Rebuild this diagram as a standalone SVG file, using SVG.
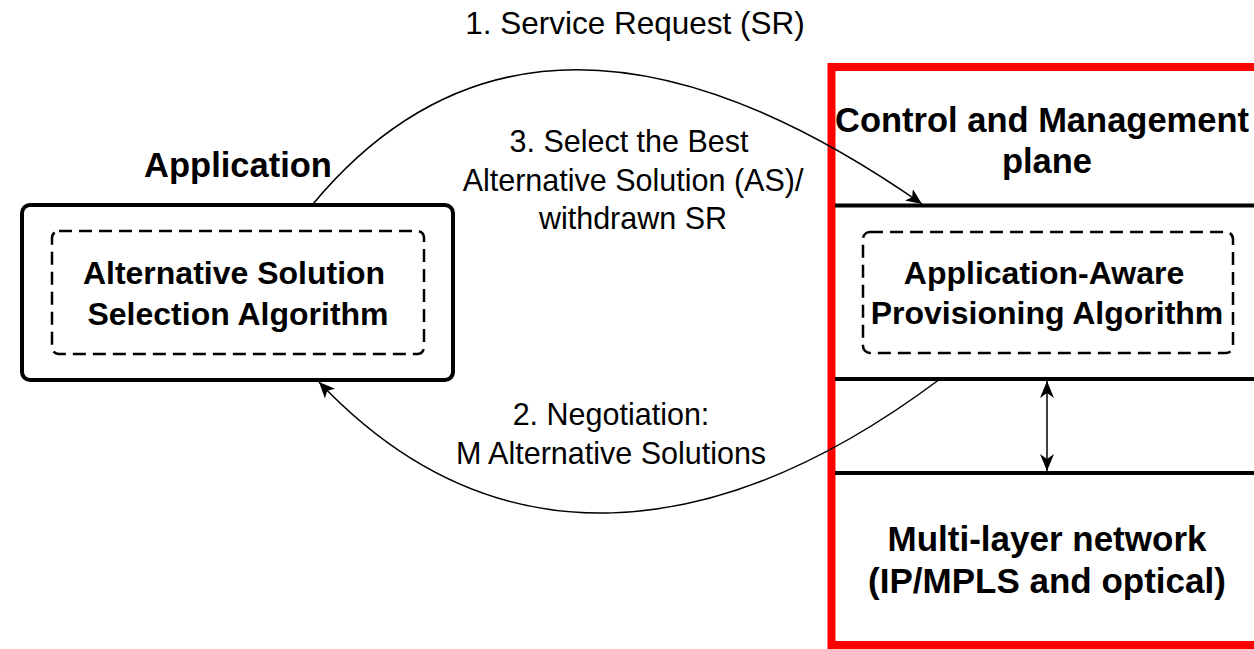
<svg xmlns="http://www.w3.org/2000/svg" width="1254" height="649" viewBox="0 0 1254 649">
  <style>
    .reg { font-family: "Liberation Sans", Arial, sans-serif; font-size: 30.5px; fill: #000; text-anchor: middle; }
    .big { font-size: 31.5px; }
    .bold { font-family: "Liberation Sans", Arial, sans-serif; font-weight: bold; fill: #000; text-anchor: middle; }
    .t34 { font-size: 34.5px; }
    .t31 { font-size: 32px; }
    .t35 { font-size: 35px; }
    .box { fill: none; stroke: #000; stroke-width: 4; }
    .dash { fill: none; stroke: #000; stroke-width: 2.5; stroke-dasharray: 13 7; }
    .layer { stroke: #000; stroke-width: 4; }
    .conn { fill: none; stroke: #000; stroke-width: 1.5; }
  </style>
  <defs>
    <marker id="arrow" markerUnits="userSpaceOnUse" markerWidth="18" markerHeight="14" viewBox="0 0 18 14" refX="16" refY="7" orient="auto">
      <path d="M0,0 L16,7 L0,14 L4,7 z" fill="#000"/>
    </marker>
    <marker id="arrow2" markerUnits="userSpaceOnUse" markerWidth="18" markerHeight="14" viewBox="0 0 18 14" refX="17" refY="7" orient="auto-start-reverse">
      <path d="M0,0 L17,7 L0,14 L5,7 z" fill="#000"/>
    </marker>
  </defs>

  <rect width="1254" height="649" fill="#fff"/>

  <!-- control/management domain frame -->
  <g id="domain">
    <rect x="831.5" y="67" width="440" height="578" fill="none" stroke="#ff0000" stroke-width="8"/>
    <line class="layer" x1="835" y1="205.5" x2="1254" y2="205.5"/>
    <line class="layer" x1="835" y1="379" x2="1254" y2="379"/>
    <line class="layer" x1="835" y1="473" x2="1254" y2="473"/>
    <text class="bold t34" x="1042" y="132">Control and Management</text>
    <text class="bold t34" x="1047" y="173">plane</text>
  </g>

  <!-- application node -->
  <g id="application">
    <text class="bold t34" x="238" y="177">Application</text>
    <rect class="box" x="22" y="205" width="431" height="175" rx="8"/>
  </g>

  <g id="selection-algorithm">
    <rect class="dash" x="52" y="231" width="372" height="123" rx="7"/>
    <text class="bold t31" x="234" y="284">Alternative Solution</text>
    <text class="bold t31" x="238" y="325">Selection Algorithm</text>
  </g>

  <g id="provisioning-algorithm">
    <rect class="dash" x="863" y="232" width="370" height="121" rx="7"/>
    <text class="bold t31" x="1044" y="284">Application-Aware</text>
    <text class="bold t31" x="1047" y="324">Provisioning Algorithm</text>
  </g>

  <g id="network">
    <text class="bold t35" x="1047" y="551">Multi-layer network</text>
    <text class="bold t35" x="1047" y="593">(IP/MPLS and optical)</text>
  </g>

  <!-- message flows -->
  <g id="connectors">
    <path class="conn" d="M313,204 C488,-6 714,59 922,204" marker-end="url(#arrow)"/>
    <path class="conn" d="M940,379 C717,546 495,568 319,382" marker-end="url(#arrow)"/>
    <line class="conn" x1="1047" y1="381" x2="1047" y2="471" marker-start="url(#arrow2)" marker-end="url(#arrow2)"/>
  </g>

  <g id="labels">
    <text class="reg big" x="635" y="34">1. Service Request (SR)</text>
    <text class="reg" x="629" y="152">3. Select the Best</text>
    <text class="reg" x="633" y="191">Alternative Solution (AS)/</text>
    <text class="reg" x="633" y="229">withdrawn SR</text>
    <text class="reg" x="611" y="425">2. Negotiation:</text>
    <text class="reg" x="611" y="464">M Alternative Solutions</text>
  </g>
</svg>
